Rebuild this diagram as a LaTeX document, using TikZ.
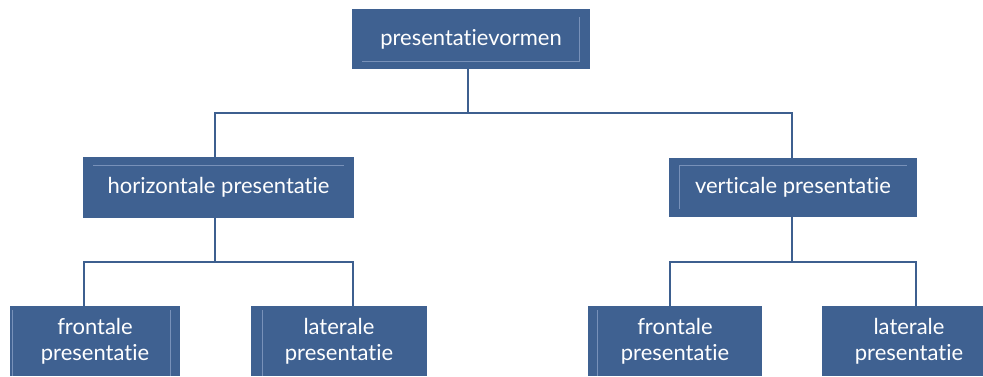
\documentclass[tikz,border=0pt]{standalone}
\usepackage{fontspec}
\setmainfont{Lato}[RawFeature={-liga;-dlig;-calt}]
\definecolor{boxblue}{RGB}{63,97,145}
\definecolor{linkblue}{RGB}{61,95,143}
\definecolor{hilite}{RGB}{120,145,185}
\begin{document}
\begin{tikzpicture}[x=1pt,y=-1pt,
  box/.style={rectangle,fill=boxblue,text=white,inner sep=0pt,align=center,
    font=\fontsize{22}{26}\selectfont},
  conn/.style={draw=linkblue,line width=2pt},
  hl/.style={draw=hilite,line width=0.6pt}]
\useasboundingbox[fill=white] (0,0) rectangle (983,376);
\node[box,minimum width=238pt,minimum height=60pt] (top) at (471,39) {presentatievormen};
\node[box,minimum width=271pt,minimum height=61pt] (h) at (218.5,187.5) {horizontale presentatie};
\node[box,minimum width=248pt,minimum height=59pt] (v) at (793,187.5) {verticale presentatie};
\node[box,minimum width=170pt,minimum height=70pt] (f1) at (95,341) {frontale\\presentatie};
\node[box,minimum width=176pt,minimum height=70pt] (l1) at (339,341) {laterale\\presentatie};
\node[box,minimum width=174pt,minimum height=70pt] (f2) at (675,341) {frontale\\presentatie};
\node[box,minimum width=174pt,minimum height=70pt] (l2) at (909,341) {laterale\\presentatie};
% highlight lines
\draw[hl] (362,61) -- (579,61) -- (579,17);
\draw[hl] (93,165) -- (344,165);
\draw[hl] (679,209) -- (679,165) -- (907,165);
\draw[hl] (12,310) -- (12,376);
\draw[hl] (170,310) -- (170,376);
\draw[hl] (262,310) -- (262,376);
\draw[hl] (597,310) -- (597,376);
% connectors
\coordinate (j1) at (215,113);
\coordinate (j2) at (792,113);
\coordinate (hl1) at (84,262);
\coordinate (hr1) at (353,262);
\coordinate (vl1) at (670,262);
\coordinate (vr1) at (916,262);
\draw[conn] (top.south -| 468,0) -- (468,113);
\draw[conn] (j1 |- h.north) -- (j1) -- (j2) -- (j2 |- v.north);
\draw[conn] (h.south -| j1) -- (j1 |- hl1);
\draw[conn] (hl1 |- f1.north) -- (hl1) -- (hr1) -- (hr1 |- l1.north);
\draw[conn] (v.south -| j2) -- (j2 |- vl1);
\draw[conn] (vl1 |- f2.north) -- (vl1) -- (vr1) -- (vr1 |- l2.north);
\end{tikzpicture}
\end{document}
